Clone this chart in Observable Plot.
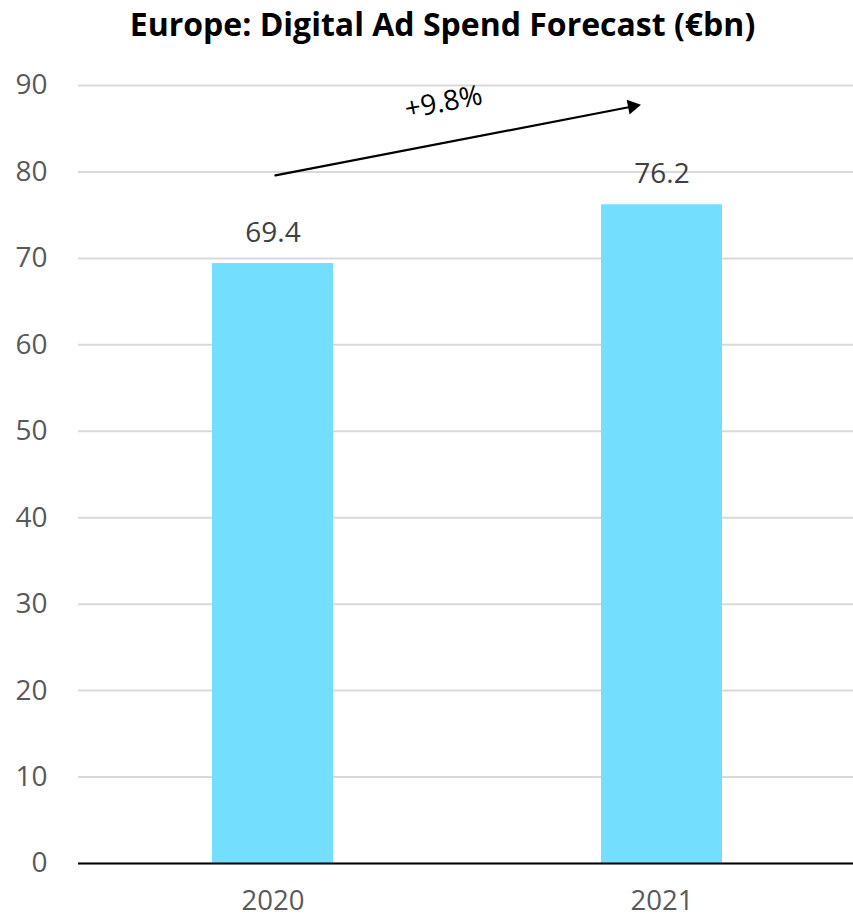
<!DOCTYPE html>
<html>
<head>
<meta charset="utf-8">
<script src="https://cdn.jsdelivr.net/npm/d3@7"></script>
<script src="https://cdn.jsdelivr.net/npm/@observablehq/plot@0.6"></script>
<style>
  html, body { margin: 0; padding: 0; background: #fff; }
  #title { height: 62px; box-sizing: border-box; padding-top: 8px; margin: 0 0 0 16px;
    font-family: "Open Sans", sans-serif; font-weight: 700; font-size: 32px; line-height: 32px;
    color: #000; text-align: center; white-space: nowrap; width: 853px; }
  #chart svg { display: block; }
</style>
</head>
<body>
<div id="title">Europe: Digital Ad Spend Forecast (€bn)</div>
<div id="chart"></div>
<script>
const years = ["2020", "2021"];
const spend = [69.4, 76.2];
const spendLabels = ["69.4", "76.2"];
const yTicks = [0, 10, 20, 30, 40, 50, 60, 70, 80, 90];
const growthLabel = "+9.8%";
const growthArrow = {from: "2020", to: "2021", yFrom: 79.54, yTo: 88.23};
const arrowHead = {x: "2021", y: 87.59};
const growthText = {x: "2020", y: 88.04};

const data = years.map((y, i) => ({year: y, value: spend[i], label: spendLabels[i]}));

const chart = Plot.plot({
  width: 853,
  height: 856,
  marginTop: 23,
  marginBottom: 55,
  marginLeft: 78,
  marginRight: 0,
  style: {fontFamily: "Open Sans, sans-serif", fontSize: "28px", background: "#fff", overflow: "visible"},
  x: {domain: years, paddingInner: 0.688, paddingOuter: 0.339, align: 0.508, label: null},
  y: {domain: [0, 90], label: null},
  marks: [
    Plot.gridY(yTicks, {stroke: "#d9d9d9", strokeOpacity: 1, strokeWidth: 2}),
    Plot.axisY(yTicks, {tickSize: 0, tickPadding: 31, fontSize: 28, fill: "#595959", label: null}),
    Plot.axisX({tickSize: 0, tickPadding: 27, fontSize: 27.5, fill: "#595959", label: null}),
    Plot.barY(data, {x: "year", y: "value", fill: "#73defd"}),
    Plot.ruleY([0], {stroke: "#000", strokeWidth: 2}),
    Plot.text(data, {x: "year", y: "value", text: "label", dy: -31, fontSize: 28, fill: "#404040"}),
    Plot.arrow([growthArrow], {x1: "from", y1: "yFrom", x2: "to", y2: "yTo",
      stroke: "#000", strokeWidth: 2.2, headLength: 0, insetStart: 2.5, insetEnd: 30}),
    Plot.dot([arrowHead], {x: "x", y: "y", dx: -29.6, symbol: "triangle", r: 5.6,
      rotate: 79.1, fill: "#000", stroke: "none"}),
    Plot.text([growthText], {x: "x", y: "y", text: () => growthLabel, dx: 170.5,
      rotate: -11, fontSize: 28, fill: "#000"})
  ]
});
document.getElementById("chart").appendChild(chart);
</script>
</body>
</html>
